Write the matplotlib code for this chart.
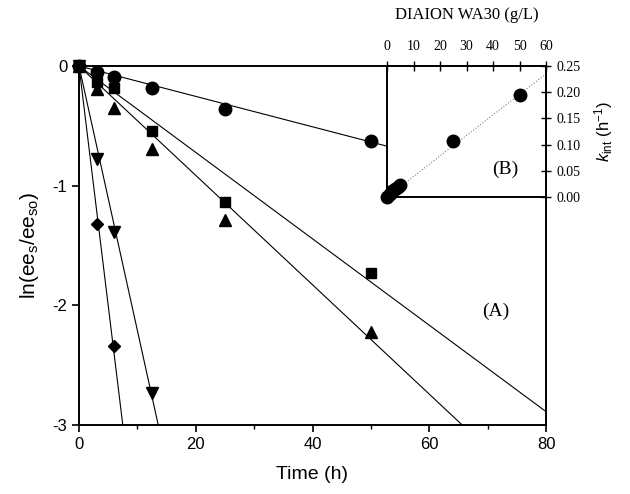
import numpy as np
import matplotlib
matplotlib.use('Agg')
from matplotlib import pyplot as plt

plt.rcParams['font.family'] = ['Liberation Sans', 'DejaVu Sans']
plt.rcParams['mathtext.fontset'] = 'custom'
plt.rcParams['mathtext.rm'] = 'Liberation Sans'
plt.rcParams['mathtext.it'] = 'Liberation Sans:italic'

# (A) ln(ee_s/ee_s0) vs time
t_circle = [0, 3, 6, 12.5, 25, 50]
y_circle = [0, -0.05, -0.09, -0.18, -0.36, -0.63]
t_square = [0, 3, 6, 12.5, 25, 50]
y_square = [0, -0.13, -0.18, -0.54, -1.14, -1.73]
t_tri = [0, 3, 6, 12.5, 25, 50]
y_tri = [0, -0.19, -0.35, -0.69, -1.29, -2.22]
t_itri = [0, 3, 6, 12.5]
y_itri = [0, -0.78, -1.39, -2.73]
t_diam = [0, 3, 6]
y_diam = [0, -1.32, -2.34]
# slopes of the fitted lines (through origin)
slopes = [-0.0127, -0.0361, -0.0457, -0.221, -0.40]

# (B) k_int vs resin loading
resin = [0, 1, 2, 3, 4, 5, 25, 50]
k_int = [0.0, 0.006, 0.011, 0.016, 0.020, 0.023, 0.107, 0.195]
fit_x = [0, 60]
fit_y = [0, 0.235]

fig = plt.figure(figsize=(6.3, 4.94), dpi=100)
ax = fig.add_axes([79/630, 1-425/494, 467/630, 359/494])

tt = np.linspace(0, 80, 400)
for s in slopes:
    ax.plot(tt, s*tt, color='black', lw=0.8)

ms = 9
ax.plot(t_circle, y_circle, 'o', color='black', ms=ms, clip_on=False, zorder=5)
ax.plot(t_square, y_square, 's', color='black', ms=ms-1.5, clip_on=False, zorder=5)
ax.plot(t_tri, y_tri, '^', color='black', ms=ms-0.5, clip_on=False, zorder=5)
ax.plot(t_itri, y_itri, 'v', color='black', ms=ms-0.5, clip_on=False, zorder=5)
ax.plot(t_diam, y_diam, 'D', color='black', ms=ms-2.5, clip_on=False, zorder=5)

ax.set_xlim(0, 80)
ax.set_ylim(-3, 0)
ax.set_xticks([0, 20, 40, 60, 80])
ax.set_xticks([10, 30, 50, 70], minor=True)
ax.set_yticks([-3, -2, -1, 0])
ax.set_yticklabels(['-3', '-2', '-1', '0'])
ax.tick_params(axis='both', which='major', direction='out', length=5, width=1.2, labelsize=12)
ax.tick_params(axis='both', which='minor', direction='out', length=3, width=1)
for sp in ax.spines.values():
    sp.set_linewidth(1.4)
ax.set_xlabel('Time (h)', fontsize=14, labelpad=10)
ax.set_ylabel(r'ln(ee$_{\mathrm{s}}$/ee$_{\mathrm{so}}$)', fontsize=15, labelpad=8)
ax.text(71.4, -2.05, '(A)', fontsize=14, family='Liberation Serif', ha='center', va='center')

# inset
ins = fig.add_axes([387/630, 1-197/494, 159/630, 131/494])
ins.set_facecolor('white')
ins.plot(fit_x, fit_y, ':', color='gray', lw=0.8)
ins.plot(resin, k_int, 'o', color='black', ms=ms, clip_on=False, zorder=5)
ins.set_xlim(0, 60)
ins.set_ylim(0, 0.25)
ins.xaxis.tick_top()
ins.yaxis.tick_right()
ins.xaxis.set_label_position('top')
ins.yaxis.set_label_position('right')
ins.set_xticks([0, 10, 20, 30, 40, 50, 60])
ins.set_yticks([0, 0.05, 0.10, 0.15, 0.20, 0.25])
ins.set_yticklabels(['0.00', '0.05', '0.10', '0.15', '0.20', '0.25'])
for lab in ins.get_xticklabels() + ins.get_yticklabels():
    lab.set_family('Liberation Serif')
ins.tick_params(axis='x', direction='inout', length=7, width=1, labelsize=10, pad=6)
ins.tick_params(axis='y', direction='inout', length=7, width=1, labelsize=10, pad=4)
for sp in ins.spines.values():
    sp.set_linewidth(1.4)
ins.set_xlabel('DIAION WA30 (g/L)', fontsize=12, family='Liberation Serif', labelpad=15)
ins.set_ylabel(r'$k_{\mathrm{int}}$ (h$^{-1}$)', fontsize=12, labelpad=8)
ins.text(44.5, 0.052, '(B)', fontsize=14, family='Liberation Serif', ha='center', va='center')

fig.savefig('out.png', dpi=100)
